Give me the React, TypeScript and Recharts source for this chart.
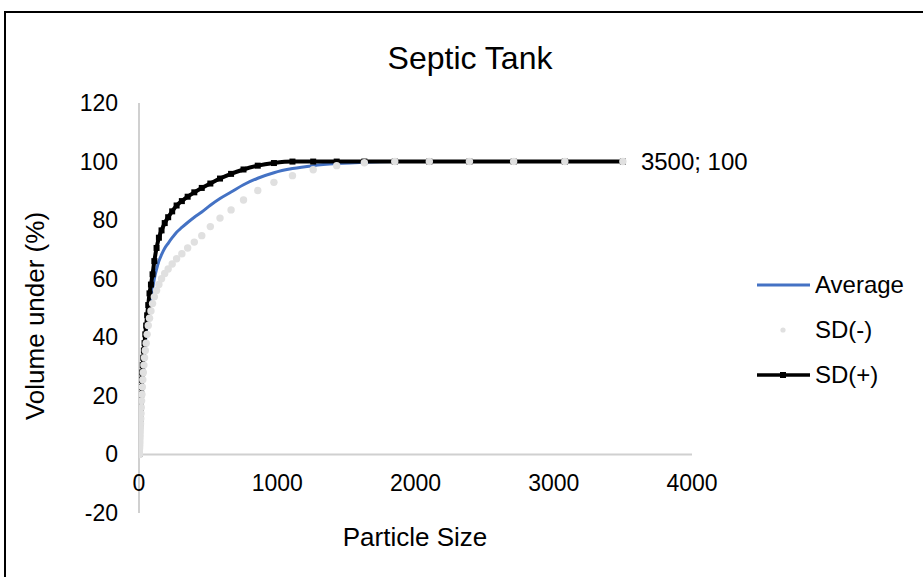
import React from 'react';
import { ComposedChart, Line, XAxis, YAxis, ReferenceLine, LabelList } from 'recharts';

const sizes = [0.991, 1.13, 1.28, 1.45, 1.65, 1.88, 2.13, 2.42, 2.75, 3.12, 3.55, 4.03, 4.58, 5.21, 5.92, 6.72, 7.64, 8.68, 9.86, 11.2, 12.7, 14.5, 16.4, 18.7, 21.2, 24.1, 27.4, 31.1, 35.3, 40.1, 45.6, 51.8, 58.9, 66.9, 76.0, 86.4, 98.1, 111, 127, 144, 163, 186, 211, 240, 272, 310, 352, 400, 454, 516, 586, 666, 756, 859, 976, 1110, 1260, 1430, 1630, 1850, 2100, 2390, 2710, 3080, 3500];

const sdMinus = [0.0, 0.05, 0.1, 0.2, 0.3, 0.45, 0.65, 0.9, 1.2, 1.6, 2.0, 2.5, 3.1, 3.8, 4.6, 5.5, 6.5, 7.7, 9.0, 10.5, 12.2, 14.0, 16.0, 18.3, 20.5, 23.0, 25.5, 28.0, 30.5, 33.0, 35.5, 38.0, 41.0, 44.0, 46.5, 49.0, 51.5, 53.8, 56.0, 58.0, 60.0, 61.8, 63.3, 65.0, 66.8, 68.5, 70.5, 72.5, 74.7, 77.8, 80.7, 83.5, 86.9, 90.1, 92.9, 95.2, 97.2, 98.6, 99.6, 100, 100, 100, 100, 100, 100];

const average = [0.05, 0.12, 0.2, 0.32, 0.47, 0.67, 0.92, 1.25, 1.6, 2.05, 2.55, 3.15, 3.85, 4.65, 5.55, 6.6, 7.75, 9.1, 10.6, 12.25, 14.1, 16.15, 18.25, 20.65, 23.0, 25.5, 28.0, 30.5, 33.0, 35.5, 38.0, 41.0, 44.3, 47.5, 50.7, 53.5, 56.5, 60.0, 63.2, 66.0, 68.2, 70.4, 72.1, 74.0, 75.9, 77.5, 79.2, 81.0, 82.8, 85.1, 87.4, 89.6, 92.1, 94.3, 96.2, 97.6, 98.6, 99.3, 99.8, 100, 100, 100, 100, 100, 100];

const sdPlus = [0.1, 0.2, 0.3, 0.45, 0.65, 0.9, 1.2, 1.6, 2.0, 2.5, 3.1, 3.8, 4.6, 5.5, 6.5, 7.7, 9.0, 10.5, 12.2, 14.0, 16.0, 18.3, 20.5, 23.0, 25.5, 28.0, 30.5, 33.0, 35.5, 38.0, 41.0, 44.0, 47.5, 51.0, 55.0, 58.0, 61.5, 66.0, 70.5, 74.0, 76.5, 79.0, 81.0, 83.0, 85.0, 86.5, 88.0, 89.5, 91.0, 92.5, 94.2, 95.8, 97.3, 98.6, 99.5, 100, 100, 100, 100, 100, 100, 100, 100, 100, 100];

const xTicks = [0, 1000, 2000, 3000, 4000];
const yTicks = [-20, 0, 20, 40, 60, 80, 100, 120];

const seriesNames = ['Average', 'SD(-)', 'SD(+)'];
const chartTitle = 'Septic Tank';
const xTitle = 'Particle Size';
const yTitle = 'Volume under (%)';

const avgData = sizes.map((s, i) => ({ x: s, y: average[i] }));
const minusData = sizes.map((s, i) => ({ x: s, y: sdMinus[i] }));
const plusData = sizes.map((s, i) => ({ x: s, y: sdPlus[i] }));

const FONT = '"Liberation Sans", Arial, Helvetica, sans-serif';
const BLUE = '#4472C4';
const GRAY_DOT = '#e0e0e0';
const AXIS = '#d0d0d0';

const lastIdx = sizes.length - 1;

const XTick = (props: any) => {
  const { x, payload } = props;
  return (
    <text x={x} y={491} textAnchor="middle" fontSize={23} fontFamily={FONT} fill="#000">
      {payload.value}
    </text>
  );
};

const YTick = (props: any) => {
  const { y, payload } = props;
  return (
    <text x={118} y={y + 8} textAnchor="end" fontSize={23} fontFamily={FONT} fill="#000">
      {payload.value}
    </text>
  );
};

const PlusDot = (props: any) => {
  const { cx, cy, index } = props;
  if (cx == null || cy == null) return <g key={`pd-${index}`} />;
  return <rect key={`pd-${index}`} x={cx - 3} y={cy - 3} width={6} height={6} fill="#000" />;
};

const MinusDot = (props: any) => {
  const { cx, cy, index } = props;
  if (cx == null || cy == null) return <g key={`md-${index}`} />;
  return <circle key={`md-${index}`} cx={cx} cy={cy} r={3.7} fill={GRAY_DOT} stroke="none" />;
};

const EndLabel = (props: any) => {
  const { x, y, index } = props;
  if (index !== lastIdx) return null;
  return (
    <text x={x + 18} y={y + 8} fontSize={24} fontFamily={FONT} fill="#000">
      {`${sizes[lastIdx]}; ${sdPlus[lastIdx]}`}
    </text>
  );
};

const LegendBox = () => {
  const rowH = 45;
  return (
    <svg width={170} height={140} style={{ position: 'absolute', left: 755, top: 270, overflow: 'visible' }}>
      {seriesNames.map((name, i) => {
        const cy = 15 + i * rowH;
        return (
          <g key={name}>
            {i === 0 && <line x1={2} x2={55} y1={cy} y2={cy} stroke={BLUE} strokeWidth={3} />}
            {i === 1 && <circle cx={28} cy={cy} r={2.6} fill={GRAY_DOT} />}
            {i === 2 && (
              <g>
                <line x1={2} x2={55} y1={cy} y2={cy} stroke="#000" strokeWidth={3.5} />
                <rect x={25} y={cy - 3} width={6} height={6} fill="#000" />
              </g>
            )}
            <text x={60} y={cy + 8} fontSize={24} fontFamily={FONT} fill="#000">
              {name}
            </text>
          </g>
        );
      })}
    </svg>
  );
};

export default function App() {
  return (
    <div style={{ position: 'absolute', left: 0, top: 0, width: 923, height: 577, background: '#fff', overflow: 'hidden' }}>
      <div
        style={{
          position: 'absolute',
          left: 4,
          top: 11,
          width: 919,
          height: 566,
          borderTop: '2px solid #000',
          borderLeft: '2px solid #000',
          boxSizing: 'border-box',
        }}
      />
      <div
        style={{
          position: 'absolute',
          left: 0,
          width: 940,
          top: 39,
          textAlign: 'center',
          fontFamily: FONT,
          fontSize: 32,
          lineHeight: '38px',
          color: '#000',
        }}
      >
        {chartTitle}
      </div>
      <div
        style={{
          position: 'absolute',
          left: 315,
          width: 200,
          top: 522,
          textAlign: 'center',
          fontFamily: FONT,
          fontSize: 26,
          lineHeight: '30px',
          color: '#000',
        }}
      >
        {xTitle}
      </div>
      <div
        style={{
          position: 'absolute',
          left: 35 - 150,
          top: 316 - 15,
          width: 300,
          height: 30,
          textAlign: 'center',
          fontFamily: FONT,
          fontSize: 26,
          lineHeight: '30px',
          color: '#000',
          transform: 'rotate(-90deg)',
        }}
      >
        {yTitle}
      </div>
      <div style={{ position: 'absolute', left: 0, top: 0 }}>
        <ComposedChart width={923} height={577} margin={{ top: 103, right: 231, bottom: 34, left: 79 }}>
          <XAxis
            dataKey="x"
            type="number"
            domain={[0, 4000]}
            ticks={xTicks}
            axisLine={false}
            tickLine={false}
            height={30}
            tick={<XTick />}
            allowDataOverflow
          />
          <YAxis
            type="number"
            domain={[-20, 120]}
            ticks={yTicks}
            axisLine={{ stroke: AXIS, strokeWidth: 2 }}
            tickLine={false}
            width={60}
            tick={<YTick />}
            allowDataOverflow
          />
          <ReferenceLine y={0} stroke={AXIS} strokeWidth={2} />
          <Line
            name="Average"
            data={avgData}
            dataKey="y"
            type="monotone"
            stroke={BLUE}
            strokeWidth={3}
            dot={false}
            activeDot={false}
            isAnimationActive={false}
          />
          <Line
            name="SD(+)"
            data={plusData}
            dataKey="y"
            type="monotone"
            stroke="#000"
            strokeWidth={4}
            dot={<PlusDot />}
            activeDot={false}
            isAnimationActive={false}
          >
            <LabelList dataKey="y" content={<EndLabel />} />
          </Line>
          <Line
            name="SD(-)"
            data={minusData}
            dataKey="y"
            type="monotone"
            stroke="none"
            strokeWidth={0}
            dot={<MinusDot />}
            activeDot={false}
            isAnimationActive={false}
          />
        </ComposedChart>
      </div>
      <LegendBox />
    </div>
  );
}
